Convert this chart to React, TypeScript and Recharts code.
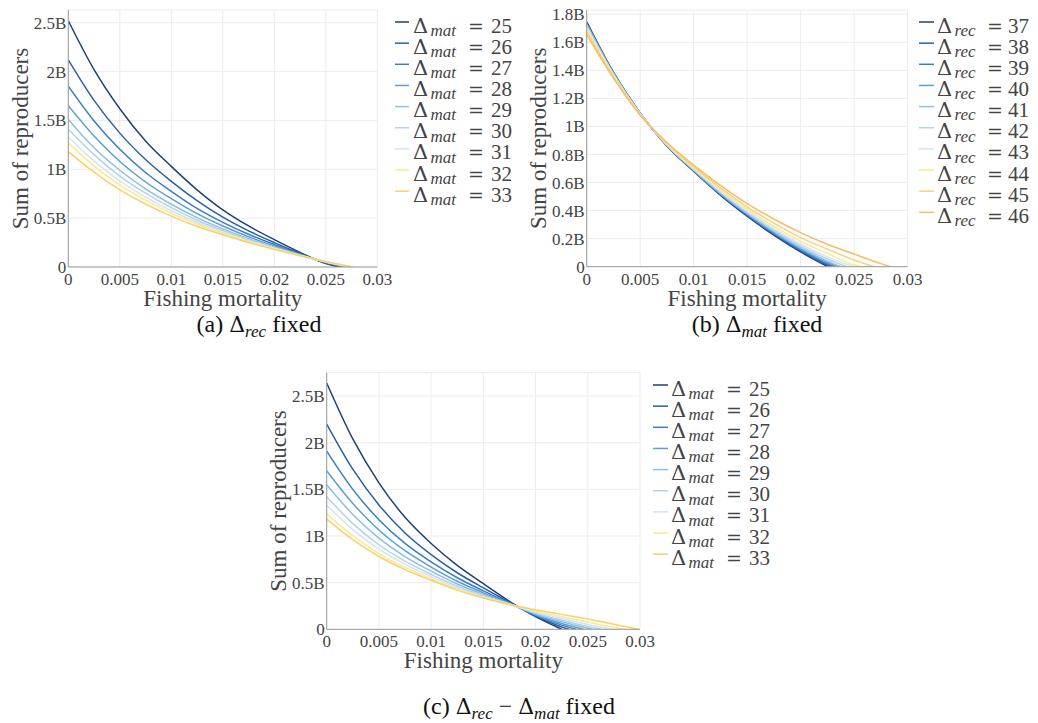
import React from "react";
import {
  CartesianGrid,
  Label,
  Legend,
  Line,
  LineChart,
  XAxis,
  YAxis,
} from "recharts";

const SERIF = '"Liberation Serif", "Times New Roman", serif';
const MATH = '"DejaVu Serif", "Liberation Serif", serif';
const INK = "#444";
const AXIS = "#9a9a9a";

// fishing mortality sample points (shared), ticks
const fGrid = [0, 0.0025, 0.005, 0.0075, 0.01, 0.0125, 0.015, 0.0175, 0.02, 0.0225, 0.025, 0.0275];
const xTicks = [0, 0.005, 0.01, 0.015, 0.02, 0.025, 0.03];

// (a) Δrec fixed, sum of reproducers in billions
const namesA = ["25", "26", "27", "28", "29", "30", "31", "32", "33"];
const a25 = [2.52, 2.02, 1.62, 1.29, 1.03, 0.79, 0.585, 0.42, 0.28, 0.15, 0.035];
const a26 = [2.12, 1.705, 1.37, 1.1, 0.877, 0.68, 0.51, 0.37, 0.25, 0.14, 0.041];
const a27 = [1.85, 1.495, 1.205, 0.967, 0.775, 0.6, 0.457, 0.335, 0.23, 0.132, 0.045];
const a28 = [1.65, 1.34, 1.08, 0.87, 0.7, 0.546, 0.42, 0.31, 0.215, 0.127, 0.048];
const a29 = [1.51, 1.22, 0.99, 0.8, 0.642, 0.505, 0.39, 0.29, 0.204, 0.123, 0.05];
const a30 = [1.41, 1.15, 0.93, 0.755, 0.607, 0.479, 0.373, 0.279, 0.197, 0.121, 0.052];
const a31 = [1.33, 1.085, 0.88, 0.716, 0.576, 0.456, 0.358, 0.269, 0.191, 0.119, 0.053];
const a32 = [1.27, 1.033, 0.84, 0.684, 0.551, 0.437, 0.345, 0.26, 0.186, 0.117, 0.054];
const a33 = [1.18, 0.97, 0.79, 0.645, 0.52, 0.415, 0.33, 0.25, 0.18, 0.115, 0.055];
const endA = [0.0263, 0.0267, 0.0269, 0.0271, 0.0273, 0.0274, 0.0275, 0.0276, 0.0277];
const yTicksA = [0, 0.5, 1, 1.5, 2, 2.5];

// (b) Δmat fixed
const namesB = ["37", "38", "39", "40", "41", "42", "43", "44", "45", "46"];
const b37 = [1.745, 1.385, 1.095, 0.86, 0.68, 0.51, 0.36, 0.225, 0.105];
const b38 = [1.74, 1.383, 1.094, 0.862, 0.683, 0.514, 0.365, 0.232, 0.113, 0.012];
const b39 = [1.735, 1.381, 1.093, 0.863, 0.685, 0.518, 0.37, 0.238, 0.12, 0.021];
const b40 = [1.731, 1.379, 1.093, 0.864, 0.687, 0.521, 0.374, 0.243, 0.127, 0.03];
const b41 = [1.725, 1.376, 1.092, 0.866, 0.69, 0.525, 0.38, 0.25, 0.135, 0.04];
const b42 = [1.718, 1.373, 1.091, 0.868, 0.693, 0.531, 0.387, 0.26, 0.146, 0.055];
const b43 = [1.709, 1.369, 1.089, 0.87, 0.698, 0.538, 0.396, 0.271, 0.16, 0.07];
const b44 = [1.696, 1.363, 1.087, 0.874, 0.704, 0.549, 0.41, 0.288, 0.181, 0.095, 0.012];
const b45 = [1.678, 1.355, 1.084, 0.879, 0.713, 0.562, 0.427, 0.31, 0.207, 0.125, 0.048];
const b46 = [1.655, 1.345, 1.08, 0.885, 0.724, 0.58, 0.45, 0.34, 0.243, 0.16, 0.09, 0.022];
const endB = [0.02254, 0.0229, 0.0232, 0.0235, 0.0238, 0.0243, 0.0249, 0.0258, 0.0269, 0.0284];
const yTicksB = [0, 0.2, 0.4, 0.6, 0.8, 1, 1.2, 1.4, 1.6, 1.8];

// (c) Δrec − Δmat fixed
const namesC = ["25", "26", "27", "28", "29", "30", "31", "32", "33"];
const c25 = [2.64, 2.04, 1.57, 1.2, 0.92, 0.685, 0.49, 0.3, 0.135];
const c26 = [2.2, 1.716, 1.333, 1.032, 0.8, 0.606, 0.444, 0.29, 0.142, 0.025];
const c27 = [1.91, 1.5, 1.175, 0.92, 0.7225, 0.5525, 0.4125, 0.2825, 0.149, 0.045];
const c28 = [1.7, 1.349, 1.064, 0.842, 0.667, 0.515, 0.391, 0.278, 0.156, 0.063];
const c29 = [1.55, 1.23, 0.977, 0.78, 0.624, 0.486, 0.374, 0.274, 0.164, 0.08];
const c30 = [1.42, 1.133, 0.906, 0.73, 0.588, 0.462, 0.36, 0.271, 0.173, 0.097, 0.03];
const c31 = [1.33, 1.068, 0.859, 0.696, 0.5645, 0.4465, 0.35, 0.2685, 0.184, 0.115, 0.052];
const c32 = [1.24, 1.003, 0.812, 0.662, 0.541, 0.431, 0.341, 0.266, 0.196, 0.135, 0.077, 0.02];
const c33 = [1.18, 0.96, 0.78, 0.64, 0.525, 0.42, 0.335, 0.265, 0.21, 0.16, 0.11, 0.055];
const endC = [0.0225, 0.0232, 0.0239, 0.0246, 0.0254, 0.0263, 0.0273, 0.0285, 0.0299];

const colors9 = ["#1f4079", "#2a5fa5", "#3a7ec2", "#5c9ed5", "#8cbfe2", "#b2d3eb", "#d2e3f3", "#fde890", "#f9d16c"];
const colors10 = ["#1f4079", "#2a5fa5", "#3a7ec2", "#5c9ed5", "#8cbfe2", "#b2d3eb", "#d2e3f3", "#fde890", "#fbd27a", "#f7bb6a"];

const build = (vals: number[], end: number) => [
  ...vals.map((v, i) => ({ f: fGrid[i], v })),
  { f: end, v: 0 },
];

const xTitle = (props: any) => {
  const vb = props.viewBox || {};
  return (
    <text x={vb.x + vb.width / 2} y={vb.y + 39} textAnchor="middle" fontFamily={SERIF} fontSize={23} fill={INK}>
      Fishing mortality
    </text>
  );
};

const yTitle = (props: any) => {
  const vb = props.viewBox || {};
  const x = vb.x + vb.width - 48;
  const y = vb.y + vb.height / 2;
  return (
    <text x={x} y={y} transform={`rotate(-90, ${x}, ${y})`} textAnchor="middle" dominantBaseline="central" fontFamily={SERIF} fontSize={23} fill={INK}>
      Sum of reproducers
    </text>
  );
};

// d = [sample length, Δ x, sub offset, "=" offset, number offset]
const legendContent = (sub: string, d: number[]) => (props: any) => {
  const items = props.payload || [];
  const pitch = 21.15;
  return (
    <svg width={140} height={items.length * pitch + 10} style={{ display: "block", overflow: "visible" }}>
      {items.map((it: any, i: number) => {
        const y = 2 + i * pitch;
        return (
          <g key={it.value}>
            <line x1={0} x2={d[0]} y1={y} y2={y} stroke={it.color} strokeWidth={1.5} />
            <text x={d[1]} y={y + 10.5} fontFamily={MATH} fontSize={21} fill={INK}>Δ</text>
            <text x={d[1] + d[2]} y={y + 13.8} fontFamily={SERIF} fontSize={17} fontStyle="italic" fill={INK}>{sub}</text>
            <text x={d[1] + d[3]} y={y + 10.5} fontFamily={MATH} fontSize={19} fill={INK}>=</text>
            <text x={d[1] + d[4]} y={y + 10.5} fontFamily={SERIF} fontSize={21} fill={INK}>{it.value}</text>
          </g>
        );
      })}
    </svg>
  );
};

type PanelProps = {
  left: number;
  top: number;
  width: number;
  height: number;
  margin: { top: number; right: number; bottom: number; left: number };
  yMax: number;
  yTicks: number[];
  series: number[][];
  ends: number[];
  names: string[];
  colors: string[];
  sub: string;
  legendLeft: number;
  legendTop: number;
  legendDx: number[];
};

function Panel(p: PanelProps) {
  const tick = { fontFamily: SERIF, fontSize: 17, fill: INK };
  return (
    <div style={{ position: "absolute", left: p.left, top: p.top }}>
      <LineChart width={p.width} height={p.height} margin={p.margin}>
        <CartesianGrid stroke="#ececec" />
        <XAxis
          type="number"
          dataKey="f"
          domain={[0, 0.03]}
          ticks={xTicks}
          interval={0}
          allowDataOverflow
          tickFormatter={(v) => String(v)}
          tickSize={0}
          tickMargin={6}
          tickLine={false}
          height={30}
          axisLine={{ stroke: AXIS }}
          tick={tick}
        >
          <Label content={xTitle} />
        </XAxis>
        <YAxis
          type="number"
          domain={[0, p.yMax]}
          ticks={p.yTicks}
          interval={0}
          allowDataOverflow
          tickFormatter={(v) => (v === 0 ? "0" : `${v}B`)}
          tickSize={0}
          tickMargin={2}
          tickLine={false}
          width={60}
          axisLine={{ stroke: AXIS }}
          tick={tick}
        >
          <Label content={yTitle} />
        </YAxis>
        {p.series.map((vals, i) => (
          <Line
            key={p.names[i]}
            data={build(vals, p.ends[i])}
            dataKey="v"
            name={p.names[i]}
            type="monotone"
            stroke={p.colors[i]}
            strokeWidth={1.5}
            dot={false}
            activeDot={false}
            isAnimationActive={false}
          />
        ))}
        <Legend
          layout="vertical"
          align="center"
          verticalAlign="middle"
          wrapperStyle={{ left: p.legendLeft, top: p.legendTop, width: 140 }}
          content={legendContent(p.sub, p.legendDx)}
        />
      </LineChart>
    </div>
  );
}

const Delta = () => <span style={{ fontFamily: MATH, fontSize: 22 }}>Δ</span>;

const Sub = ({ children }: { children: React.ReactNode }) => (
  <span style={{ fontStyle: "italic", fontSize: 17, position: "relative", top: 5 }}>{children}</span>
);

const captionStyle = (cx: number, top: number): React.CSSProperties => ({
  position: "absolute",
  left: cx,
  top,
  transform: "translateX(-50%)",
  whiteSpace: "nowrap",
  fontFamily: SERIF,
  fontSize: 24,
  lineHeight: "24px",
  color: "#111",
});

export default function App() {
  return (
    <div style={{ position: "absolute", left: 0, top: 0, width: 1038, height: 723, background: "#fff" }}>
      <Panel
        left={0}
        top={0}
        width={519}
        height={320}
        margin={{ top: 10, right: 141.7, bottom: 23, left: 8.3 }}
        yMax={2.63}
        yTicks={yTicksA}
        series={[a25, a26, a27, a28, a29, a30, a31, a32, a33]}
        ends={endA}
        names={namesA}
        colors={colors9}
        sub="mat"
        legendLeft={395}
        legendTop={20.3}
        legendDx={[14, 18, 17.5, 55, 78]}
      />
      <Panel
        left={519}
        top={0}
        width={519}
        height={320}
        margin={{ top: 10, right: 130.5, bottom: 23.3, left: 7.7 }}
        yMax={1.83}
        yTicks={yTicksB}
        series={[b37, b38, b39, b40, b41, b42, b43, b44, b45, b46]}
        ends={endB}
        names={namesB}
        colors={colors10}
        sub="rec"
        legendLeft={400}
        legendTop={20.3}
        legendDx={[15, 18, 17.5, 50, 71]}
      />
      <Panel
        left={240}
        top={362}
        width={560}
        height={320}
        margin={{ top: 10.7, right: 160, bottom: 22.7, left: 26.7 }}
        yMax={2.75}
        yTicks={yTicksA}
        series={[c25, c26, c27, c28, c29, c30, c31, c32, c33]}
        ends={endC}
        names={namesC}
        colors={colors9}
        sub="mat"
        legendLeft={413}
        legendTop={21}
        legendDx={[15, 18, 17.5, 55, 78]}
      />
      <div style={captionStyle(259, 312)}>
        (a) <Delta />
        <Sub>rec</Sub> fixed
      </div>
      <div style={captionStyle(757, 312)}>
        (b) <Delta />
        <Sub>mat</Sub> fixed
      </div>
      <div style={captionStyle(519, 694)}>
        (c) <Delta />
        <Sub>rec</Sub> − <Delta />
        <Sub>mat</Sub> fixed
      </div>
    </div>
  );
}
